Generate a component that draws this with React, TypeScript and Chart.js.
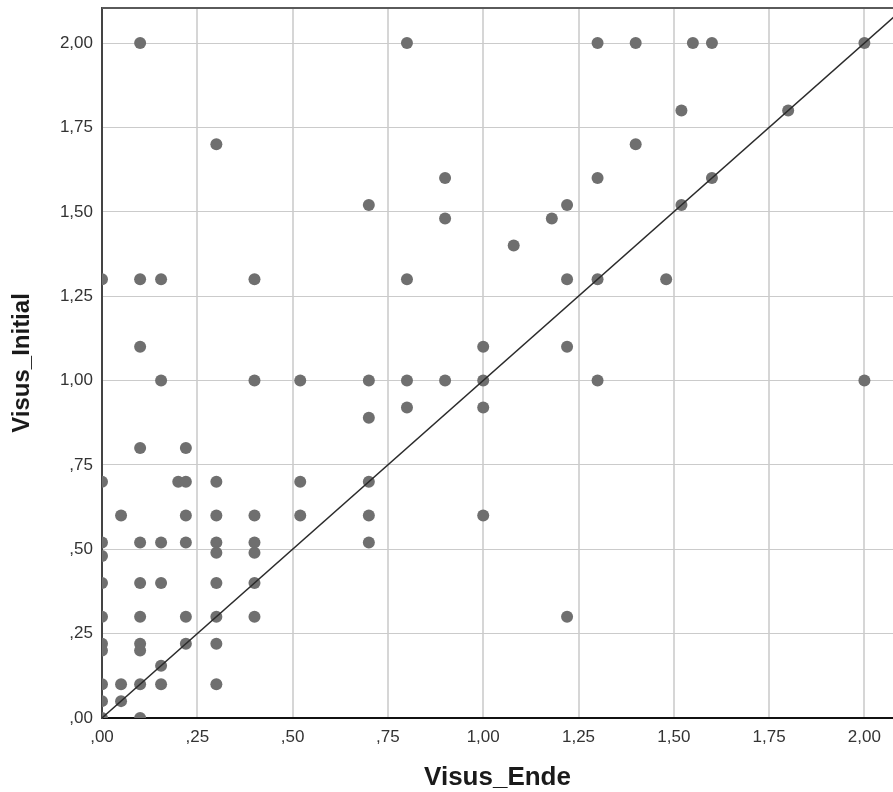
import React, { useEffect, useRef } from "react";
import { Chart, registerables } from "chart.js";

Chart.register(...registerables);

// Visus_Ende (x) and Visus_Initial (y)
const visusEnde: number[] = [
  0.1, 0.8, 1.3, 1.4, 1.55, 1.6, 2.0,
  1.52, 1.8,
  0.3, 1.4,
  0.9, 1.3, 1.6,
  0.7, 1.22, 1.52,
  0.9, 1.18,
  1.08,
  0, 0.1, 0.155, 0.4, 0.8, 1.22, 1.3, 1.48,
  0.1, 1.0, 1.22,
  0.155, 0.4, 0.52, 0.7, 0.8, 0.9, 1.0, 1.3, 2.0,
  0.8, 1.0,
  0.7,
  0.1, 0.22,
  0, 0.2, 0.22, 0.3, 0.52, 0.7,
  0.05, 0.22, 0.3, 0.4, 0.52, 0.7, 1.0,
  0, 0.1, 0.155, 0.22, 0.3, 0.4, 0.7,
  0, 0.3, 0.4,
  0, 0.1, 0.155, 0.3, 0.4,
  0, 0.1, 0.22, 0.3, 0.4, 1.22,
  0, 0.1, 0.22, 0.3,
  0, 0.1,
  0.155,
  0, 0.05, 0.1, 0.155, 0.3,
  0, 0.05,
  0, 0.1,
];

const visusInitial: number[] = [
  2.0, 2.0, 2.0, 2.0, 2.0, 2.0, 2.0,
  1.8, 1.8,
  1.7, 1.7,
  1.6, 1.6, 1.6,
  1.52, 1.52, 1.52,
  1.48, 1.48,
  1.4,
  1.3, 1.3, 1.3, 1.3, 1.3, 1.3, 1.3, 1.3,
  1.1, 1.1, 1.1,
  1.0, 1.0, 1.0, 1.0, 1.0, 1.0, 1.0, 1.0, 1.0,
  0.92, 0.92,
  0.89,
  0.8, 0.8,
  0.7, 0.7, 0.7, 0.7, 0.7, 0.7,
  0.6, 0.6, 0.6, 0.6, 0.6, 0.6, 0.6,
  0.52, 0.52, 0.52, 0.52, 0.52, 0.52, 0.52,
  0.48, 0.49, 0.49,
  0.4, 0.4, 0.4, 0.4, 0.4,
  0.3, 0.3, 0.3, 0.3, 0.3, 0.3,
  0.22, 0.22, 0.22, 0.22,
  0.2, 0.2,
  0.155,
  0.1, 0.1, 0.1, 0.1, 0.1,
  0.05, 0.05,
  0, 0,
];

// Reference line y = x
const diagonalX: number[] = [0, 2.2];
const diagonalY: number[] = [0, 2.2];

const tickValues: number[] = [0, 0.25, 0.5, 0.75, 1.0, 1.25, 1.5, 1.75, 2.0];
const tickLabels: string[] = [",00", ",25", ",50", ",75", "1,00", "1,25", "1,50", "1,75", "2,00"];

const xTitle = "Visus_Ende";
const yTitle = "Visus_Initial";

const FONT = "Arial, 'Liberation Sans', sans-serif";

const topBorderPlugin = {
  id: "topBorder",
  afterDraw(chart: any) {
    const { ctx, chartArea } = chart;
    ctx.save();
    ctx.strokeStyle = "#5a5a5a";
    ctx.lineWidth = 2;
    ctx.beginPath();
    ctx.moveTo(chartArea.left, chartArea.top);
    ctx.lineTo(chartArea.right, chartArea.top);
    ctx.stroke();
    ctx.restore();
  },
};

const zeroPadding = (s: any) => {
  s.paddingTop = 0;
  s.paddingBottom = 0;
  s.paddingLeft = 0;
  s.paddingRight = 0;
};

export default function App() {
  const ref = useRef<HTMLCanvasElement | null>(null);

  useEffect(() => {
    if (!ref.current) return;
    const points = visusEnde.map((x, i) => ({ x, y: visusInitial[i] }));
    const line = diagonalX.map((x, i) => ({ x, y: diagonalY[i] }));
    const setTicks = (scale: any) => {
      scale.ticks = tickValues.map((v) => ({ value: v }));
    };
    const labelFor = (v: any) => {
      const i = tickValues.indexOf(Number(v));
      return i >= 0 ? tickLabels[i] : "";
    };
    const chart = new Chart(ref.current, {
      type: "scatter",
      data: {
        datasets: [
          {
            type: "line",
            data: line,
            borderColor: "#2b2b2b",
            borderWidth: 1.4,
            pointRadius: 0,
            fill: false,
            clip: 0,
            order: 0,
          } as any,
          {
            data: points,
            backgroundColor: "#6f6f6f",
            borderWidth: 0,
            pointRadius: 6,
            clip: 0,
            order: 1,
          } as any,
        ],
      },
      plugins: [topBorderPlugin],
      options: {
        responsive: false,
        animation: false,
        events: [],
        layout: { autoPadding: false, padding: { top: 8, right: 0, left: 0, bottom: 0 } },
        plugins: {
          legend: { display: false },
          tooltip: { enabled: false },
        },
        scales: {
          x: {
            type: "linear",
            min: 0,
            max: 2.075,
            afterBuildTicks: setTicks,
            afterFit: (s: any) => {
              s.height = 74;
              zeroPadding(s);
            },
            grid: {
              color: "#d6d6d6",
              lineWidth: 2,
              drawTicks: false,
            },
            border: { color: "#111111", width: 2 },
            ticks: {
              padding: 9,
              maxRotation: 0,
              autoSkip: false,
              color: "#333333",
              font: { family: FONT, size: 17 },
              callback: labelFor,
            },
            title: {
              display: true,
              text: xTitle,
              color: "#1a1a1a",
              font: { family: FONT, size: 26, weight: "bold", lineHeight: 1 },
              padding: { top: 0, bottom: 1 },
            },
          },
          y: {
            type: "linear",
            min: 0,
            max: 2.104,
            afterBuildTicks: setTicks,
            afterFit: (s: any) => {
              s.width = 102;
              zeroPadding(s);
            },
            grid: {
              color: "#cbcbcb",
              lineWidth: 1,
              drawTicks: false,
            },
            border: { color: "#444444", width: 2 },
            ticks: {
              padding: 9,
              autoSkip: false,
              color: "#333333",
              font: { family: FONT, size: 17 },
              callback: labelFor,
            },
            title: {
              display: true,
              text: yTitle,
              color: "#1a1a1a",
              font: { family: FONT, size: 24, weight: "bold", lineHeight: 1.2 },
              padding: { top: 8, bottom: 0 },
            },
          },
        },
      } as any,
    });
    return () => chart.destroy();
  }, []);

  return (
    <div style={{ position: "absolute", left: 0, top: 0, width: 893, height: 792, background: "#ffffff" }}>
      <canvas ref={ref} width={893} height={792} style={{ display: "block" }} />
    </div>
  );
}
